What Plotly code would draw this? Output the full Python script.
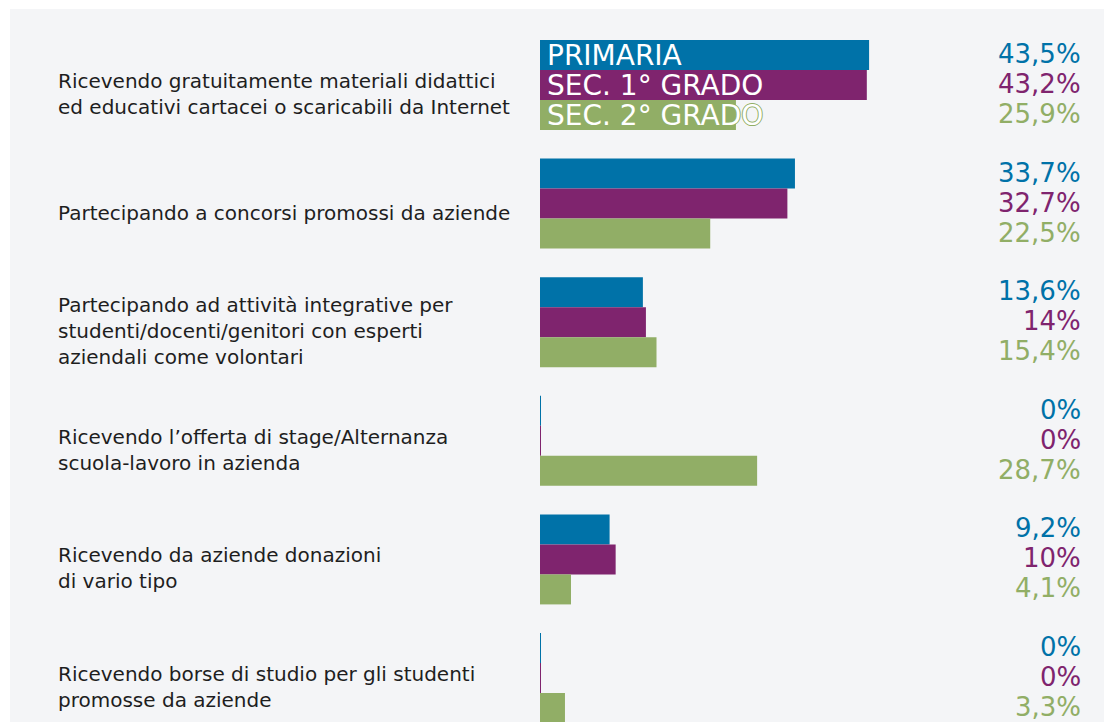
import plotly.graph_objects as go

categories = [
    "Ricevendo gratuitamente materiali didattici<br>ed educativi cartacei o scaricabili da Internet",
    "Partecipando a concorsi promossi da aziende",
    "Partecipando ad attività integrative per<br>studenti/docenti/genitori con esperti<br>aziendali come volontari",
    "Ricevendo l’offerta di stage/Alternanza<br>scuola-lavoro in azienda",
    "Ricevendo da aziende donazioni<br>di vario tipo",
    "Ricevendo borse di studio per gli studenti<br>promosse da aziende",
]
series_names = ["PRIMARIA", "SEC. 1° GRADO", "SEC. 2° GRADO"]
primaria = [43.5, 33.7, 13.6, 0, 9.2, 0]
sec1 = [43.2, 32.7, 14, 0, 10, 0]
sec2 = [25.9, 22.5, 15.4, 28.7, 4.1, 3.3]
colors = ["#0072a8", "#7f246e", "#91ae66"]

BG = "#f4f5f7"
FONT = "DejaVu Sans"

ids = list(range(len(categories)))
fig = go.Figure()
all_series = [primaria, sec1, sec2]
for name, vals, col in zip(series_names, all_series, colors):
    fig.add_trace(go.Bar(
        y=ids, x=vals, orientation="h", name=name,
        marker=dict(color=col,
                    line=dict(color=col, width=[2 if v == 0 else 0 for v in vals])),
        hoverinfo="skip",
    ))

def fmt(v):
    s = ("%g" % v).replace(".", ",")
    return s + "%"

ann = []
shifts = [30, 0, -30]
for vals, col, sh in zip(all_series, colors, shifts):
    for i, v in enumerate(vals):
        ann.append(dict(x=0.9628, xref="paper", y=i, yref="y", yshift=sh + 1,
                        text=fmt(v), showarrow=False, xanchor="right", yanchor="middle",
                        font=dict(family=FONT, size=26, color=col)))

for i, c in enumerate(categories):
    ann.append(dict(x=-0.8582, xref="paper", y=i, yref="y", yshift=-9,
                    text=c, showarrow=False, xanchor="left", yanchor="middle", align="left",
                    font=dict(family=FONT, size=20, color="#1e1e1e")))

# legend labels overlaid on first group
for name, col, sh in zip(series_names, colors, shifts):
    ann.append(dict(x=0, xref="x", xshift=5, y=0, yref="y", yshift=sh,
                    text=name, showarrow=False, xanchor="left", yanchor="middle",
                    font=dict(family=FONT, size=28, color="white",
                              shadow="1px 0 0 %s, -1px 0 0 %s, 0 1px 0 %s, 0 -1px 0 %s" % (col, col, col, col))))

fig.update_layout(
    width=1104, height=722,
    margin=dict(l=540, r=0, t=9, b=0),
    paper_bgcolor="white", plot_bgcolor=BG,
    barmode="group", bargap=0.241, bargroupgap=0,
    showlegend=False,
    xaxis=dict(range=[0, 74.55], visible=False, fixedrange=True),
    yaxis=dict(range=[5.371, -0.641], visible=False, fixedrange=True),
    annotations=ann,
    shapes=[dict(type="rect", xref="paper", yref="paper", x0=-0.9397, x1=1.02, y0=-0.02, y1=1,
                 fillcolor=BG, line=dict(width=0), layer="below")],
)

fig.write_html("out.html", config={"displayModeBar": False},
               post_script="document.body.style.margin='0';document.body.style.overflow='hidden';")
